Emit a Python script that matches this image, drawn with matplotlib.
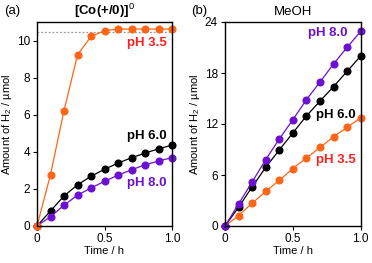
import numpy as np
import matplotlib
matplotlib.use("Agg")
import matplotlib.pyplot as plt

plt.rcParams['font.family'] = ['Liberation Sans', 'DejaVu Sans']
plt.rcParams['font.size'] = 8
plt.rcParams['mathtext.fontset'] = 'custom'
plt.rcParams['mathtext.rm'] = 'Liberation Sans'
plt.rcParams['mathtext.it'] = 'Liberation Sans:italic'
plt.rcParams['mathtext.bf'] = 'Liberation Sans:bold'

# time points (h)
t = [0.0, 0.1, 0.2, 0.3, 0.4, 0.5, 0.6, 0.7, 0.8, 0.9, 1.0]

# (a) [Co(+/0)]0, H2 / umol
a_ph35 = [0, 2.77, 6.22, 9.22, 10.22, 10.53, 10.62, 10.62, 10.62, 10.62, 10.62]
a_ph60 = [0, 0.81, 1.62, 2.22, 2.68, 3.06, 3.39, 3.68, 3.93, 4.16, 4.36]
a_ph80 = [0, 0.50, 1.12, 1.66, 2.05, 2.41, 2.74, 3.03, 3.30, 3.50, 3.69]
a_plateau = 10.47

# (b) MeOH, H2 / umol
b_ph35 = [0, 1.22, 2.68, 4.07, 5.37, 6.75, 8.01, 9.24, 10.5, 11.6, 12.75]
b_ph60 = [0, 2.2, 4.6, 6.9, 8.95, 10.95, 12.95, 14.7, 16.4, 18.2, 20.0]
b_ph80 = [0, 2.59, 5.18, 7.8, 10.24, 12.5, 14.86, 16.94, 19.06, 21.02, 22.9]

orange = '#ff6516'
purple = '#6c10d2'
red = '#ff1f1f'

fig = plt.figure(figsize=(3.72, 2.63), dpi=100)
axa = fig.add_axes([37/372, 37/263, 135/372, 204/263])
axb = fig.add_axes([225/372, 37/263, 135.7/372, 204/263])

def series(ax, y, color):
    ax.plot(t, y, '-o', color=color, lw=0.9, ms=4.8, mec=color, clip_on=False)

# panel a
series(axa, a_ph60, 'black')
series(axa, a_ph80, purple)
axa.axhline(a_plateau, color='#999999', lw=0.9, ls=(0, (1.5, 1.5)), zorder=0)
series(axa, a_ph35, orange)
axa.set_ylim(0, 11)
axa.set_yticks([0, 2, 4, 6, 8, 10])
axa.text(0.96, 9.87, 'pH 3.5', color=red, fontsize=9.5, fontweight='bold',
         ha='right', va='center')
axa.text(0.96, 4.83, 'pH 6.0', color='black', fontsize=9.5, fontweight='bold',
         ha='right', va='center')
axa.text(0.96, 2.3, 'pH 8.0', color=purple, fontsize=9.5, fontweight='bold',
         ha='right', va='center')
axa.set_title('[Co(+/0)]$^0$', fontsize=9.5, fontweight='bold', pad=5)

# panel b
series(axb, b_ph35, orange)
series(axb, b_ph60, 'black')
series(axb, b_ph80, purple)
axb.set_ylim(0, 24)
axb.set_yticks([0, 6, 12, 18, 24])
axb.text(0.9, 22.7, 'pH 8.0', color=purple, fontsize=9.5, fontweight='bold',
         ha='right', va='center')
axb.text(0.96, 13.1, 'pH 6.0', color='black', fontsize=9.5, fontweight='bold',
         ha='right', va='center')
axb.text(0.96, 7.8, 'pH 3.5', color=red, fontsize=9.5, fontweight='bold',
         ha='right', va='center')
axb.set_title('MeOH', fontsize=9.5, pad=5)

for ax in (axa, axb):
    ax.set_xlim(0, 1)
    ax.set_xticks([0, 0.5, 1.0])
    ax.set_xticklabels(['0', '0.5', '1.0'])
    ax.tick_params(direction='out', length=3, width=0.8, labelsize=8.5, pad=2)
    for s in ax.spines.values():
        s.set_linewidth(1.0)
    ax.set_xlabel('Time / h', fontsize=8, labelpad=1)
    ax.set_ylabel('Amount of H$_2$ / µmol', fontsize=8, labelpad=2)

fig.text(4/372, 1 - 11/263, '(a)', fontsize=9.5, va='center')
fig.text(191/372, 1 - 11/263, '(b)', fontsize=9.5, va='center')

fig.savefig('out.png', dpi=100)
